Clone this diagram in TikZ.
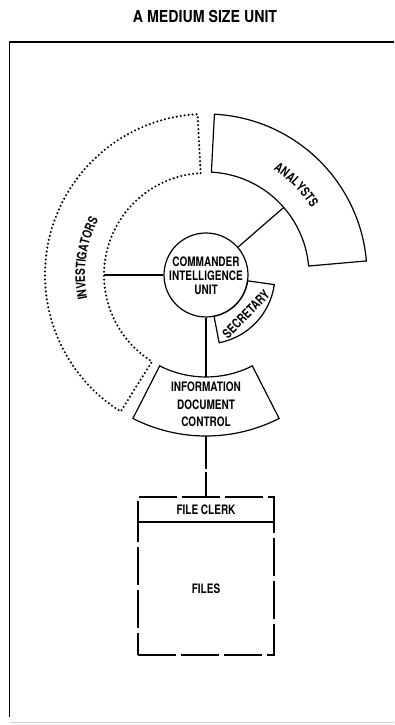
\documentclass[tikz,border=0pt]{standalone}
\usepackage{fontspec}
\newfontfamily\cond[FakeStretch=0.77]{TeX Gyre Heros}
\newfontfamily\condt[FakeStretch=0.86]{TeX Gyre Heros}
\usetikzlibrary{calc,decorations.text}
\newcommand{\lblfont}{\cond\bfseries\fontsize{13}{14}\selectfont}
\begin{document}
\begin{tikzpicture}[x=1pt,y=1pt,
  lbl/.style={font=\lblfont, align=center, inner sep=0pt},
  unit/.style={draw, line width=1.2pt},
  dotline/.style={line width=2.3pt, dash pattern=on 0pt off 4pt, line cap=round},
  longdash/.style={line width=1.2pt, dash pattern=on 38pt off 5pt},
  link/.style={line width=1.2pt},
  framel/.style={line width=1.3pt},
  curved/.style={decorate, decoration={text along path, text align=center, text={#1}}}]
\useasboundingbox (0,0) rectangle (394,725);
\coordinate (c) at (206,450);
% title
\node[inner sep=0pt, font=\condt\bfseries\fontsize{16.5}{18}\selectfont] (title) at (205,709) {A MEDIUM SIZE UNIT};
% frame
\coordinate (ftr) at (394,683);
\coordinate (ftl) at (9.5,683);
\coordinate (fbl) at (9.5,8);
\draw[framel] (ftr) -- (ftl) -- (fbl);
\coordinate (gbl) at (9.5,2);
\coordinate (gbr) at (394,2);
\draw[gray!35, line width=1pt] (gbl) -- (gbr);
% commander
\node[circle, draw, line width=1.2pt, minimum size=84pt, inner sep=0pt] (cmd) at (c) {};
\node[lbl] (cmdl) at ($(c)+(0,-1)$) {COMMANDER\\INTELLIGENCE\\UNIT};
% analysts
\draw[unit] ($(c)+(87:103)$) -- ($(c)+(87:161)$) arc[start angle=87,end angle=5,radius=161]
  -- ($(c)+(5:103)$) arc[start angle=5,end angle=87,radius=103] -- cycle;
\path[curved={|\lblfont|ANALYSTS}] ($(c)+(75:125)$) arc[start angle=75,end angle=15,radius=125];
% investigators
\draw[dotline] ($(c)+(93:102)$) -- ($(c)+(93:161)$) arc[start angle=93,end angle=238,radius=161]
  -- ($(c)+(238:102)$) arc[start angle=238,end angle=93,radius=102] -- cycle;
\path[curved={|\lblfont|INVESTIGATORS}] ($(c)+(200:121)$) arc[start angle=200,end angle=144,radius=121];
% secretary
\draw[unit] ($(c)+(-79:42)$) -- ($(c)+(-79:69)$) arc[start angle=-79,end angle=-8,radius=69]
  -- ($(c)+(-8:42)$) arc[start angle=-8,end angle=-79,radius=42] -- cycle;
\node[lbl, rotate=45.5] (secl) at ($(c)+(-44.5:56)$) {SECRETARY};
% information document control
\draw[unit] ($(c)+(243:102)$) -- ($(c)+(243:161)$) arc[start angle=243,end angle=297,radius=161]
  -- ($(c)+(297:102)$) arc[start angle=297,end angle=243,radius=102] -- cycle;
\node[lbl, font=\cond\bfseries\fontsize{13}{17.5}\selectfont] (idcl) at (206,320.5) {INFORMATION\\DOCUMENT\\CONTROL};
% file clerk and files
\node[draw, longdash, minimum width=136pt, minimum height=25pt, lbl] (clerk) at (206,215.5) {FILE CLERK};
\node[draw, longdash, minimum width=136pt, minimum height=133pt, lbl] (files) at (206,136.5) {FILES};
% connectors
\coordinate (an) at ($(c)+(41:103)$);
\draw[link] (cmd.41) -- (an);
\coordinate (inv) at ($(c)+(180:102)$);
\draw[link] (cmd.west) -- (inv);
\coordinate (idctop) at ($(c)+(270:102)$);
\draw[link] (cmd.south) -- (idctop);
\coordinate (idcbot) at ($(c)+(270:161)$);
\draw[link, dash pattern=on 33pt off 3pt] (idcbot) -- (clerk.north);
\end{tikzpicture}
\end{document}
